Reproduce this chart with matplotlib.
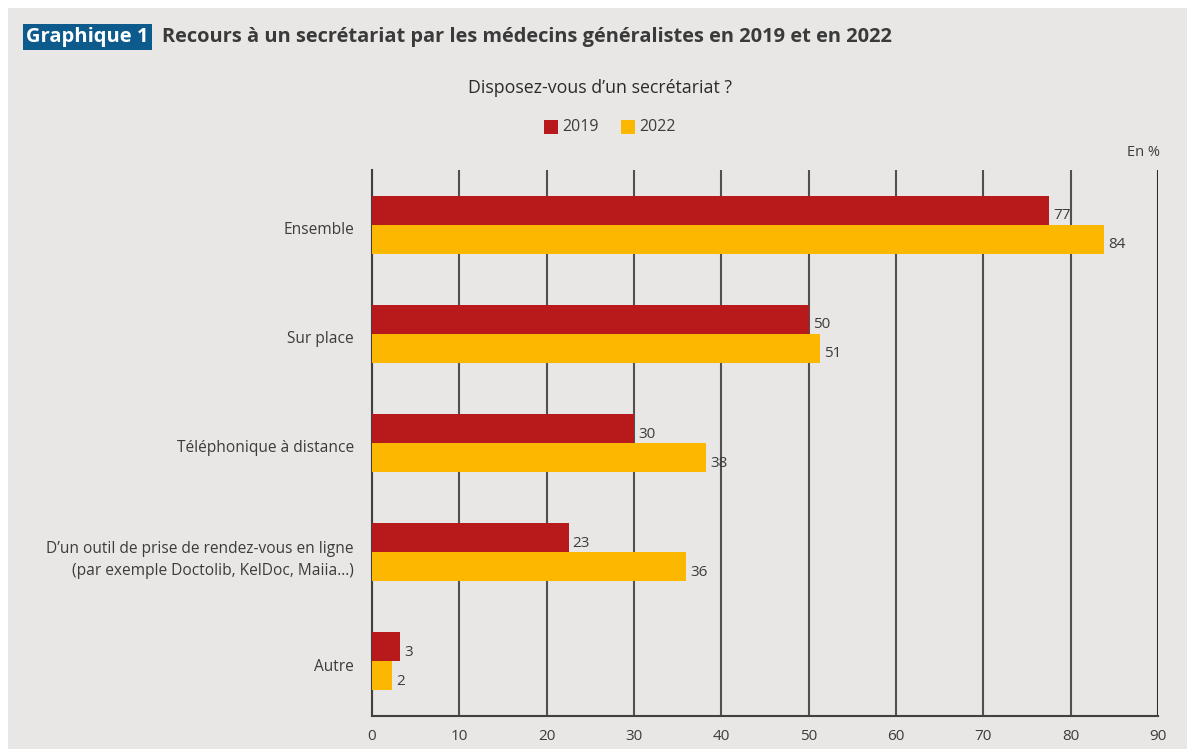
import matplotlib.pyplot as plt
from matplotlib.patches import Rectangle

categories = ["Ensemble", "Sur place", "Téléphonique à distance",
              "D’un outil de prise de rendez-vous en ligne\n(par exemple Doctolib, KelDoc, Maiia...)",
              "Autre"]
values_2019 = [77.5, 50, 30, 22.5, 3.2]
values_2022 = [83.8, 51.3, 38.3, 36, 2.3]
labels_2019 = ["77", "50", "30", "23", "3"]
labels_2022 = ["84", "51", "38", "36", "2"]
xticks = [0, 10, 20, 30, 40, 50, 60, 70, 80, 90]

red = "#b81a1c"
yellow = "#fcb700"
bg = "#e8e7e5"
txt = "#3c3c3c"

plt.rcParams['font.family'] = ['Open Sans', 'DejaVu Sans']

fig = plt.figure(figsize=(11.87, 7.49), dpi=100)
fig.patch.set_facecolor("white")
fig.patches.append(Rectangle((8 / 1187, 0), 1, 741 / 749,
                             transform=fig.transFigure, facecolor=bg,
                             edgecolor="none", zorder=-10))

ax = fig.add_axes([372 / 1187, 1 - 716 / 749, (1158 - 372) / 1187, (716 - 170) / 749])
ax.set_facecolor(bg)

h = 0.265
ys = list(range(len(categories)))
ax.barh([y - h / 2 for y in ys], values_2019, height=h, color=red, zorder=3)
ax.barh([y + h / 2 for y in ys], values_2022, height=h, color=yellow, zorder=3)

for y, v, l in zip(ys, values_2019, labels_2019):
    ax.annotate(l, (v, y - h / 2), xytext=(3, -4), textcoords="offset points",
                va="center", ha="left", fontsize=11, color=txt, zorder=4)
for y, v, l in zip(ys, values_2022, labels_2022):
    ax.annotate(l, (v, y + h / 2), xytext=(3, -4), textcoords="offset points",
                va="center", ha="left", fontsize=11, color=txt, zorder=4)

ax.set_xlim(0, 90)
ax.set_ylim(4.5, -0.5)
ax.set_xticks(xticks)
ax.set_yticks([y + 0.03 for y in ys])
ax.set_yticklabels(categories, fontsize=11.2, color=txt, linespacing=1.45)
ax.tick_params(axis="y", length=0, pad=13)
ax.tick_params(axis="x", length=0, pad=9, labelsize=11, labelcolor=txt)
ax.grid(axis="x", color="#505050", linewidth=1.5, zorder=1)
for s in ["top", "right"]:
    ax.spines[s].set_visible(False)
ax.spines["left"].set_color("#404040")
ax.spines["left"].set_linewidth(1.5)
ax.spines["bottom"].set_color("#404040")
ax.spines["bottom"].set_linewidth(1.5)
ax.axvline(90, color="#202020", linewidth=1.8, zorder=2)

# title
fig.text(26 / 1187, 1 - 37 / 749, "Graphique 1", fontsize=14.5, fontweight="bold",
         color="white", va="center", ha="left",
         bbox=dict(boxstyle="square,pad=0.15", facecolor="#0d5a8c", edgecolor="none"))
fig.text(162 / 1187, 1 - 37 / 749,
         "Recours à un secrétariat par les médecins généralistes en 2019 et en 2022",
         fontsize=14.4, fontweight="bold", color="#3a3a3a", va="center", ha="left")

fig.text(600 / 1187, 1 - 88 / 749, "Disposez-vous d’un secrétariat ?", fontsize=12.8,
         color="#2a2a2a", va="center", ha="center")

# legend
fig.patches.append(Rectangle((544 / 1187, 1 - 134 / 749), 14 / 1187, 14 / 749,
                             transform=fig.transFigure, facecolor=red, edgecolor="none"))
fig.text(562 / 1187, 1 - 127 / 749, "2019", fontsize=11.5, color=txt, va="center")
fig.patches.append(Rectangle((621 / 1187, 1 - 134 / 749), 14 / 1187, 14 / 749,
                             transform=fig.transFigure, facecolor=yellow, edgecolor="none"))
fig.text(639 / 1187, 1 - 127 / 749, "2022", fontsize=11.5, color=txt, va="center")

fig.text(1160 / 1187, 1 - 153 / 749, "En %", fontsize=10.5, color=txt, va="center", ha="right")

fig.savefig("out.png", dpi=100, facecolor=fig.get_facecolor())
